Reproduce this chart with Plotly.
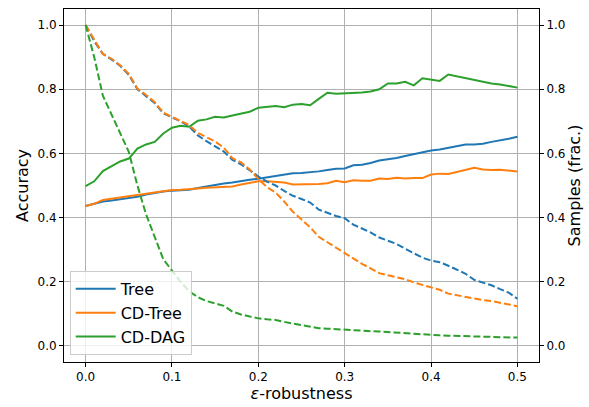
import plotly.graph_objects as go

eps = [round(i * 0.01, 2) for i in range(51)]

tree_acc = [0.436, 0.442, 0.450, 0.453, 0.457, 0.460, 0.465, 0.472, 0.477, 0.481,
            0.484, 0.485, 0.487, 0.492, 0.497, 0.502, 0.506, 0.509, 0.514, 0.518,
            0.521, 0.525, 0.528, 0.532, 0.538, 0.539, 0.541, 0.544, 0.548, 0.552,
            0.553, 0.563, 0.565, 0.570, 0.578, 0.581, 0.586, 0.592, 0.598, 0.603,
            0.609, 0.612, 0.617, 0.621, 0.628, 0.628, 0.630, 0.636, 0.640, 0.646, 0.652]

cdtree_acc = [0.436, 0.443, 0.455, 0.459, 0.463, 0.466, 0.470, 0.475, 0.479, 0.484,
              0.486, 0.487, 0.488, 0.491, 0.493, 0.495, 0.496, 0.497, 0.503, 0.508,
              0.513, 0.513, 0.512, 0.509, 0.503, 0.503, 0.504, 0.505, 0.507, 0.515,
              0.510, 0.516, 0.515, 0.515, 0.522, 0.520, 0.524, 0.522, 0.523, 0.523,
              0.534, 0.537, 0.536, 0.542, 0.549, 0.555, 0.550, 0.548, 0.549, 0.546, 0.544]

cddag_acc = [0.498, 0.513, 0.545, 0.560, 0.575, 0.584, 0.615, 0.628, 0.636, 0.662,
             0.680, 0.686, 0.683, 0.702, 0.706, 0.714, 0.712, 0.718, 0.724, 0.730,
             0.742, 0.745, 0.748, 0.744, 0.752, 0.754, 0.750, 0.770, 0.789, 0.786,
             0.787, 0.787, 0.790, 0.793, 0.800, 0.818, 0.818, 0.823, 0.812, 0.834,
             0.829, 0.826, 0.846, 0.840, 0.835, 0.828, 0.822, 0.818, 0.815, 0.809, 0.805]

tree_frac = [1.000, 0.950, 0.910, 0.893, 0.873, 0.845, 0.800, 0.778, 0.757, 0.725,
             0.712, 0.700, 0.684, 0.656, 0.638, 0.622, 0.606, 0.580, 0.566, 0.548,
             0.528, 0.512, 0.500, 0.483, 0.468, 0.458, 0.447, 0.425, 0.415, 0.405,
             0.398, 0.378, 0.366, 0.354, 0.338, 0.328, 0.318, 0.303, 0.288, 0.275,
             0.266, 0.261, 0.250, 0.237, 0.225, 0.206, 0.198, 0.189, 0.177, 0.166, 0.147]

cdtree_frac = [1.000, 0.955, 0.910, 0.895, 0.875, 0.848, 0.802, 0.782, 0.760, 0.727,
               0.714, 0.702, 0.688, 0.664, 0.650, 0.637, 0.618, 0.585, 0.572, 0.550,
               0.520, 0.495, 0.478, 0.450, 0.418, 0.395, 0.370, 0.340, 0.323, 0.305,
               0.290, 0.271, 0.256, 0.242, 0.227, 0.220, 0.215, 0.208, 0.198, 0.190,
               0.182, 0.175, 0.163, 0.158, 0.153, 0.146, 0.143, 0.140, 0.135, 0.130, 0.124]

cddag_frac = [1.000, 0.900, 0.780, 0.720, 0.660, 0.605, 0.500, 0.410, 0.340, 0.270,
              0.235, 0.200, 0.170, 0.152, 0.140, 0.133, 0.125, 0.107, 0.098, 0.092,
              0.086, 0.083, 0.081, 0.075, 0.070, 0.065, 0.060, 0.055, 0.054, 0.052,
              0.050, 0.048, 0.047, 0.046, 0.045, 0.043, 0.041, 0.039, 0.037, 0.036,
              0.034, 0.033, 0.032, 0.031, 0.030, 0.029, 0.028, 0.028, 0.027, 0.027, 0.026]

names = ["Tree", "CD-Tree", "CD-DAG"]
colors = ["#1f77b4", "#ff7f0e", "#2ca02c"]
accs = [tree_acc, cdtree_acc, cddag_acc]
fracs = [tree_frac, cdtree_frac, cddag_frac]

fig = go.Figure()
for n, c, a in zip(names, colors, accs):
    fig.add_trace(go.Scatter(x=eps, y=a, mode="lines", name=n,
                             line=dict(color=c, width=2), yaxis="y"))
for n, c, f in zip(names, colors, fracs):
    fig.add_trace(go.Scatter(x=eps, y=f, mode="lines", name=n + " samples",
                             showlegend=False,
                             line=dict(color=c, width=2, dash="7px,3px"), yaxis="y2"))

font = "DejaVu Sans"
axis_common = dict(showline=True, linecolor="black", linewidth=1, mirror=True,
                   ticks="outside", ticklen=4, tickcolor="black",
                   tickfont=dict(family=font, size=12, color="black"), zeroline=False)

fig.update_layout(
    width=589, height=407,
    margin=dict(l=64, r=49, t=8, b=44),
    plot_bgcolor="white", paper_bgcolor="white",
    font=dict(family=font, color="black"),
    xaxis=dict(range=[-0.025, 0.525], tickvals=[0, 0.1, 0.2, 0.3, 0.4, 0.5],
               ticktext=["0.0", "0.1", "0.2", "0.3", "0.4", "0.5"],
               showgrid=True, gridcolor="#b0b0b0", gridwidth=1,
               title=dict(text="<i>ε</i>-robustness", font=dict(family=font, size=16), standoff=3),
               **axis_common),
    yaxis=dict(range=[-0.05, 1.05], tickvals=[0, 0.2, 0.4, 0.6, 0.8, 1.0],
               ticktext=["0.0", "0.2", "0.4", "0.6", "0.8", "1.0"],
               showgrid=True, gridcolor="#b0b0b0", gridwidth=1,
               title=dict(text="Accuracy", font=dict(family=font, size=16), standoff=4),
               **axis_common),
    yaxis2=dict(range=[-0.05, 1.05], tickvals=[0, 0.2, 0.4, 0.6, 0.8, 1.0],
                ticktext=["0.0", "0.2", "0.4", "0.6", "0.8", "1.0"],
                overlaying="y", side="right", showgrid=False,
                title=dict(text="Samples (frac.)", font=dict(family=font, size=16), standoff=4),
                **axis_common),
    legend=dict(x=0.012, y=0.02, xanchor="left", yanchor="bottom",
                bgcolor="rgba(255,255,255,0.8)", bordercolor="#cccccc", borderwidth=1,
                font=dict(family=font, size=16), tracegroupgap=0, itemwidth=40),
    showlegend=True,
)

fig.write_html("out.html")
